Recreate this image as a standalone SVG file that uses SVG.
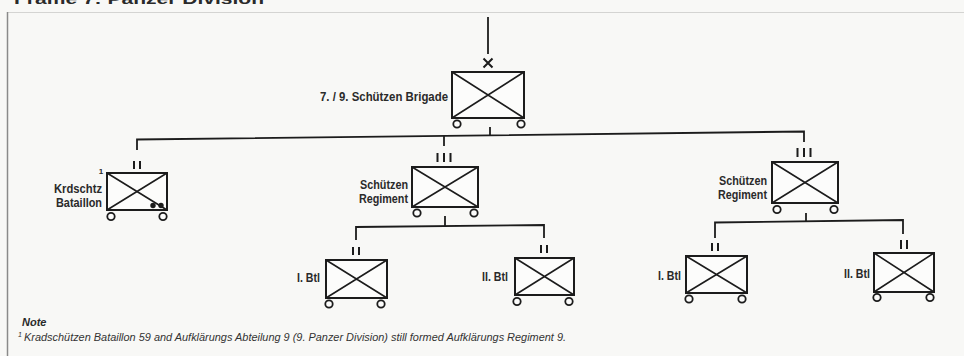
<svg xmlns="http://www.w3.org/2000/svg" width="964" height="356" viewBox="0 0 964 356">
<style>
.bg{fill:#f8f8f6}
.frame{stroke:#8a8a8a;stroke-width:1.5;fill:none}
.rule{stroke:#d4d4d2;stroke-width:1;fill:none}
.box{fill:#fcfcfb;stroke:#1c1c1c;stroke-width:2}
.diag{stroke:#1c1c1c;stroke-width:1.6;fill:none}
.wheel{fill:#fcfcfb;stroke:#1c1c1c;stroke-width:1.8}
.rank{stroke:#1c1c1c;stroke-width:2;fill:none}
.dot{fill:#1c1c1c}
.conn{stroke:#1c1c1c;stroke-width:1.8;fill:none}
.lbl{font-family:"Liberation Sans Narrow","Liberation Sans",Arial,sans-serif;font-weight:bold;font-size:12.5px;fill:#2a2a2a;text-anchor:end}
.sup{font-family:"Liberation Sans",sans-serif;font-weight:bold;font-size:8px;fill:#2a2a2a}
.title{font-family:"Liberation Sans",sans-serif;font-weight:bold;font-size:15px;fill:#2a2a2a}
.note{font-family:"Liberation Sans",sans-serif;font-weight:bold;font-style:italic;font-size:11px;fill:#2a2a2a}
.foot{font-family:"Liberation Sans",sans-serif;font-style:italic;font-size:11px;fill:#333}
.footsup{font-family:"Liberation Sans",sans-serif;font-style:italic;font-size:7px;fill:#333}
</style>
<rect class="bg" x="0" y="0" width="964" height="356"/>
<text class="title" x="14" y="3.5" textLength="250" lengthAdjust="spacingAndGlyphs">Frame 7: Panzer Division</text>
<line class="rule" x1="7" y1="12.5" x2="964" y2="12.5"/>
<line class="frame" x1="7.5" y1="12" x2="7.5" y2="356"/>

<g id="connectors">
  <line class="conn" x1="488" y1="17" x2="488" y2="54"/>
  <line class="conn" x1="490" y1="127" x2="490" y2="135.5"/>
  <polyline class="conn" points="137,150 137,139.5 804,131.5 804,142"/>
  <line class="conn" x1="444" y1="135.8" x2="444" y2="146"/>
  <line class="conn" x1="445" y1="216" x2="445" y2="226"/>
  <polyline class="conn" points="356,240 356,227 544,225 544,238"/>
  <line class="conn" x1="806" y1="213" x2="806" y2="221.5"/>
  <polyline class="conn" points="715,238 715,222.5 903,220 903,234"/>
</g>

<g id="brigade">
  <path class="rank" d="M483.5,58.5 L492.5,67.5 M492.5,58.5 L483.5,67.5"/>
  <rect class="box" x="452" y="72" width="72" height="46"/>
  <path class="diag" d="M452,72 L524,118 M452,118 L524,72"/>
  <circle class="wheel" cx="457" cy="124" r="3.7"/>
  <circle class="wheel" cx="521" cy="124" r="3.7"/>
  <text class="lbl" x="448" y="101" textLength="128" lengthAdjust="spacingAndGlyphs">7. / 9.  Schützen Brigade</text>
</g>

<g id="krdschtz-bataillon">
  <path class="rank" d="M134,161 V169 M140,161 V169"/>
  <rect class="box" x="107" y="173" width="60" height="37"/>
  <path class="diag" d="M107,173 L167,210 M107,210 L167,173"/>
  <circle class="dot" cx="153" cy="205.5" r="2.7"/>
  <circle class="dot" cx="161" cy="205.5" r="2.7"/>
  <circle class="wheel" cx="111" cy="216.5" r="3.7"/>
  <circle class="wheel" cx="163" cy="216.5" r="3.7"/>
  <text class="sup" x="101" y="174" text-anchor="middle">1</text>
  <text class="lbl" x="102" y="193" textLength="48" lengthAdjust="spacingAndGlyphs">Krdschtz</text>
  <text class="lbl" x="102" y="207" textLength="46" lengthAdjust="spacingAndGlyphs">Bataillon</text>
</g>

<g id="schuetzen-regiment-1">
  <path class="rank" d="M437.5,153 V162 M444,153 V162 M450.5,153 V162"/>
  <rect class="box" x="412" y="167" width="66" height="40"/>
  <path class="diag" d="M412,167 L478,207 M412,207 L478,167"/>
  <circle class="wheel" cx="417" cy="213" r="3.7"/>
  <circle class="wheel" cx="474" cy="213" r="3.7"/>
  <text class="lbl" x="408" y="189" textLength="48" lengthAdjust="spacingAndGlyphs">Schützen</text>
  <text class="lbl" x="408" y="202.5" textLength="49" lengthAdjust="spacingAndGlyphs">Regiment</text>
</g>

<g id="schuetzen-regiment-2">
  <path class="rank" d="M797.5,148 V157 M804,148 V157 M810.5,148 V157"/>
  <rect class="box" x="772" y="162" width="66" height="41"/>
  <path class="diag" d="M772,162 L838,203 M772,203 L838,162"/>
  <circle class="wheel" cx="777" cy="209.5" r="3.7"/>
  <circle class="wheel" cx="834" cy="209.5" r="3.7"/>
  <text class="lbl" x="767" y="185" textLength="48" lengthAdjust="spacingAndGlyphs">Schützen</text>
  <text class="lbl" x="767" y="198.5" textLength="49" lengthAdjust="spacingAndGlyphs">Regiment</text>
</g>

<g id="btl-1-1">
  <path class="rank" d="M353,247 V255 M359,247 V255"/>
  <rect class="box" x="326" y="260" width="61" height="38"/>
  <path class="diag" d="M326,260 L387,298 M326,298 L387,260"/>
  <circle class="wheel" cx="329" cy="304" r="3.7"/>
  <circle class="wheel" cx="381" cy="304" r="3.7"/>
  <text class="lbl" x="320" y="282" textLength="23" lengthAdjust="spacingAndGlyphs">I. Btl</text>
</g>

<g id="btl-1-2">
  <path class="rank" d="M541,245 V253 M547,245 V253"/>
  <rect class="box" x="515" y="258" width="59" height="37"/>
  <path class="diag" d="M515,258 L574,295 M515,295 L574,258"/>
  <circle class="wheel" cx="517" cy="301.5" r="3.7"/>
  <circle class="wheel" cx="569" cy="301.5" r="3.7"/>
  <text class="lbl" x="508" y="281" textLength="26" lengthAdjust="spacingAndGlyphs">II. Btl</text>
</g>

<g id="btl-2-1">
  <path class="rank" d="M712,243 V251 M718,243 V251"/>
  <rect class="box" x="686" y="256" width="61" height="37"/>
  <path class="diag" d="M686,256 L747,293 M686,293 L747,256"/>
  <circle class="wheel" cx="689" cy="299" r="3.7"/>
  <circle class="wheel" cx="742" cy="299" r="3.7"/>
  <text class="lbl" x="681" y="280" textLength="23" lengthAdjust="spacingAndGlyphs">I. Btl</text>
</g>

<g id="btl-2-2">
  <path class="rank" d="M901,240 V249 M907,240 V249"/>
  <rect class="box" x="874" y="253" width="60" height="39"/>
  <path class="diag" d="M874,253 L934,292 M874,292 L934,253"/>
  <circle class="wheel" cx="877" cy="297.5" r="3.7"/>
  <circle class="wheel" cx="930" cy="297.5" r="3.7"/>
  <text class="lbl" x="870" y="278" textLength="26" lengthAdjust="spacingAndGlyphs">II. Btl</text>
</g>

<text class="note" x="22" y="326">Note</text>
<text class="footsup" x="18" y="337">1</text>
<text class="foot" x="24" y="341" textLength="542" lengthAdjust="spacingAndGlyphs">Kradschützen Bataillon 59 and Aufklärungs Abteilung 9 (9. Panzer Division) still formed Aufklärungs Regiment 9.</text>
</svg>
